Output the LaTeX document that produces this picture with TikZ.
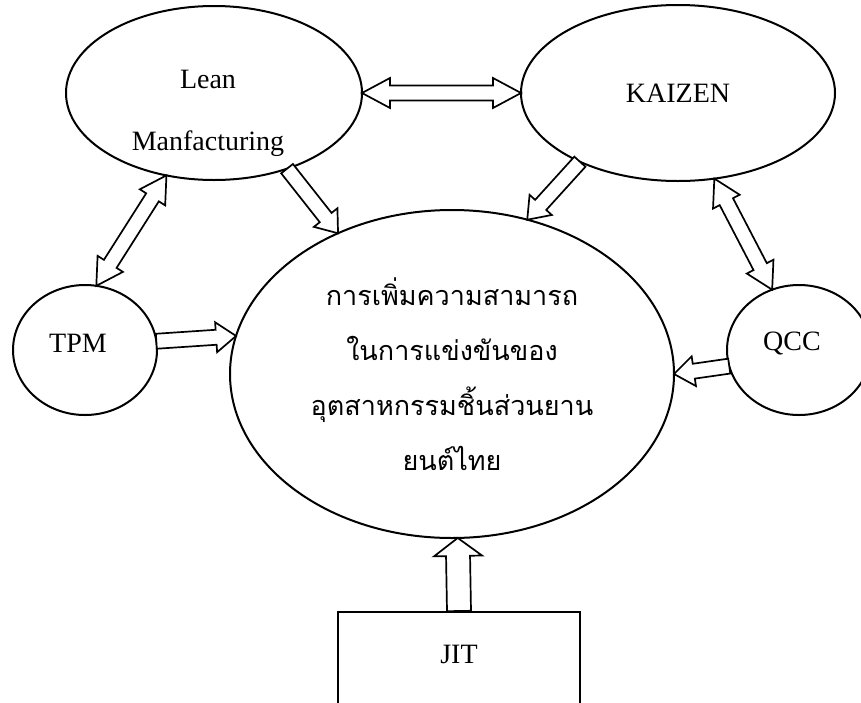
\documentclass[tikz,border=0pt]{standalone}
\usepackage{fontspec}
\setmainfont{Liberation Serif}
\newfontfamily\thaifont[Script=Thai]{Loma}
\usetikzlibrary{shapes.geometric,calc}

% hollow block arrows: from, to, half shaft, half head, head length
\newcommand{\fatarrow}[5]{%
  \coordinate (fa-b) at ($(#2)!#5!(#1)$);
  \draw[blockline] ($(#1)!#3!90:(#2)$) -- ($(fa-b)!#3!90:(#2)$) -- ($(fa-b)!#4!90:(#2)$) -- (#2)
    -- ($(fa-b)!#4!-90:(#2)$) -- ($(fa-b)!#3!-90:(#2)$) -- ($(#1)!#3!-90:(#2)$) -- cycle;
}
\newcommand{\fatdarrow}[5]{%
  \coordinate (fa-a) at ($(#1)!#5!(#2)$);
  \coordinate (fa-b) at ($(#2)!#5!(#1)$);
  \draw[blockline] (#1) -- ($(fa-a)!#4!90:(#2)$) -- ($(fa-a)!#3!90:(#2)$) -- ($(fa-b)!#3!90:(#2)$)
    -- ($(fa-b)!#4!90:(#2)$) -- (#2) -- ($(fa-b)!#4!-90:(#2)$) -- ($(fa-b)!#3!-90:(#2)$)
    -- ($(fa-a)!#3!-90:(#2)$) -- ($(fa-a)!#4!-90:(#2)$) -- cycle;
}

\begin{document}
\begin{tikzpicture}[x=0.5pt,y=-0.5pt,
  bubble/.style={draw,ellipse,line width=1pt,inner sep=0pt,outer sep=0pt},
  blockline/.style={draw,fill=white,line width=0.85pt},
  font=\fontsize{14}{17}\selectfont]
  \useasboundingbox (0,0) rectangle (861,702);
  \clip (0,0) rectangle (861,702);
  % the methods round the goal
  \node[bubble,minimum width=148pt,minimum height=87pt,
    label={[align=center,xshift=-3pt,yshift=-10pt]center:Lean\\[14pt]Manfacturing}] (lean) at (214,93) {};
  \node[bubble,minimum width=157pt,minimum height=88pt] (kaizen) at (678,93) {KAIZEN};
  \node[bubble,minimum width=72pt,minimum height=65pt,
    label={[xshift=-3.5pt,yshift=3.5pt]center:TPM}] (tpm) at (85,350) {};
  \node[bubble,minimum width=72pt,minimum height=65pt,
    label={[xshift=-3.5pt,yshift=3.5pt]center:QCC}] (qcc) at (799,350) {};
  \node[bubble,minimum width=222pt,minimum height=164pt,align=center,
    font=\thaifont\fontsize{13.5}{27.5}\selectfont] (core) at (452,374)
    {การเพิ่มความสามารถ\\ในการแข่งขันของ\\อุตสาหกรรมชิ้นส่วนยาน\\ยนต์ไทย};
  \node[draw,line width=1pt,minimum width=121pt,inner ysep=0pt,
    text height=25.75pt,text depth=30pt,anchor=north] (jit) at (459,611) {JIT};

  % links
  \fatdarrow{lean.east}{kaizen.west}{3.75pt}{7.5pt}{14pt}
  \fatdarrow{lean.-120}{tpm.80}{3.75pt}{7.5pt}{13pt}
  \fatdarrow{kaizen.-67}{qcc.114}{3.75pt}{7.5pt}{13pt}
  \fatarrow{lean.-46}{core.129}{3.75pt}{7.5pt}{10pt}
  \fatarrow{kaizen.215}{core.64}{3.75pt}{7.5pt}{10pt}
  \fatarrow{tpm.7}{core.170}{3.75pt}{7.5pt}{10pt}
  \fatarrow{qcc.193}{core.0}{3.75pt}{7.5pt}{10pt}
  \fatarrow{jit.north}{core.-88}{6pt}{12pt}{9pt}
\end{tikzpicture}
\end{document}
